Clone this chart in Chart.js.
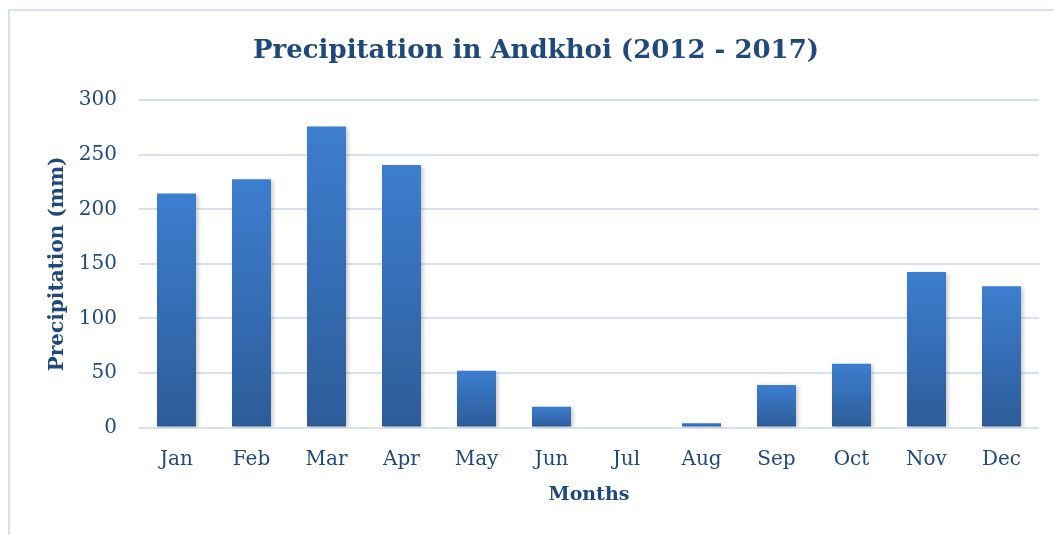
<!DOCTYPE html>
<html>
<head>
<meta charset="utf-8">
<script src="https://cdn.jsdelivr.net/npm/chart.js@4/dist/chart.umd.min.js"></script>
<style>
  html, body { margin: 0; padding: 0; background: #fff; overflow: hidden; width: 1054px; height: 535px; }
  #frame { position: absolute; left: 8px; top: 9px; width: 1056px; height: 540px; border: 2px solid #D6E1EF; box-sizing: border-box; background: #fff; }
  #wrap { position: absolute; left: 0; top: 0; width: 1052px; height: 536px; }
</style>
</head>
<body>
<div id="frame"><div id="wrap"><canvas id="c"></canvas></div></div>
<script>
const months = ["Jan","Feb","Mar","Apr","May","Jun","Jul","Aug","Sep","Oct","Nov","Dec"];
const precipitation = [214.5, 227.5, 276, 240.5, 52, 19, 0, 4, 39, 58.5, 142.5, 129.5];
const yTicks = [0, 50, 100, 150, 200, 250, 300];

const textColor = "#1F497D";
const serif = "'DejaVu Serif', serif";

const shadowPlugin = {
  id: 'barShadow',
  afterLayout(chart) {
    if (chart.titleBlock) { chart.titleBlock.right += 23; }
  },
  beforeDatasetDraw(chart) {
    const ctx = chart.ctx;
    ctx.save();
    ctx.shadowColor = 'rgba(0,0,0,0.22)';
    ctx.shadowBlur = 4;
    ctx.shadowOffsetX = 1.5;
    ctx.shadowOffsetY = 1.5;
  },
  afterDatasetDraw(chart) {
    chart.ctx.restore();
  }
};

function barGradient(context) {
  const chart = context.chart;
  const { ctx, chartArea, scales } = chart;
  if (!chartArea || context.type !== 'data') return '#3A78C6';
  const v = context.raw || 0;
  const top = scales.y.getPixelForValue(v);
  const bottom = scales.y.getPixelForValue(0);
  if (!(bottom - top > 0.5)) return '#3A78C6';
  const g = ctx.createLinearGradient(0, top, 0, bottom);
  g.addColorStop(0, '#3C7ECF');
  g.addColorStop(1, '#2D5C98');
  return g;
}

new Chart(document.getElementById('c'), {
  type: 'bar',
  data: {
    labels: months,
    datasets: [{
      label: 'Precipitation (mm)',
      data: precipitation,
      backgroundColor: barGradient,
      borderWidth: 0,
      categoryPercentage: 1,
      barPercentage: 0.52
    }]
  },
  plugins: [shadowPlugin],
  options: {
    responsive: true,
    maintainAspectRatio: false,
    animation: false,
    layout: { padding: { left: 0, right: 23, top: 0, bottom: 0 } },
    plugins: {
      legend: { display: false },
      tooltip: { enabled: false },
      title: {
        display: true,
        text: 'Precipitation in Andkhoi (2012 - 2017)',
        color: textColor,
        font: { family: serif, size: 26, weight: 'bold' },
        padding: { top: 25, bottom: 33 }
      }
    },
    scales: {
      y: {
        min: 0,
        max: 300,
        afterBuildTicks(scale) { scale.ticks = yTicks.map(v => ({ value: v })); },
        afterFit(scale) { scale.width = 129; },
        border: { display: false },
        grid: { color: '#D7E1F0', lineWidth: 2, drawTicks: false },
        ticks: { color: textColor, font: { family: serif, size: 20 }, padding: 22 },
        title: {
          display: true,
          text: 'Precipitation (mm)',
          color: textColor,
          font: { family: serif, size: 20, weight: 'bold' },
          padding: { top: 36, bottom: 0 }
        }
      },
      x: {
        border: { display: false },
        grid: { display: false, drawTicks: false },
        ticks: { color: textColor, font: { family: serif, size: 20 }, padding: 20 },
        afterFit(scale) { scale.height = 119.5; },
        title: {
          display: true,
          text: 'Months',
          color: textColor,
          font: { family: serif, size: 19, weight: 'bold' },
          padding: { top: 8, bottom: 40.5 }
        }
      }
    }
  }
});
</script>
</body>
</html>
